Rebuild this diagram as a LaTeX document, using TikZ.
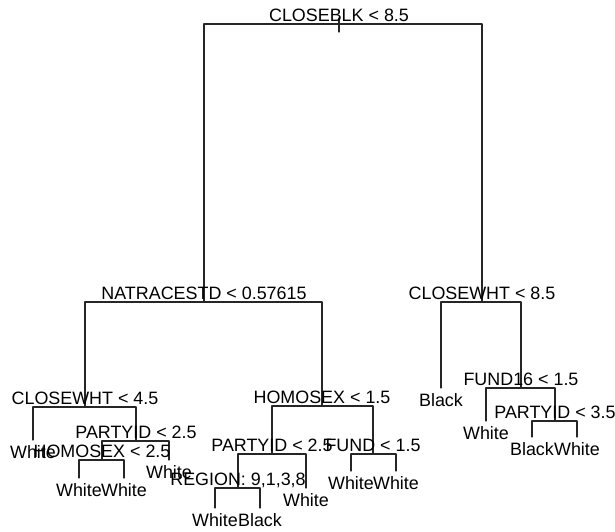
\documentclass[tikz,border=0pt]{standalone}
\usepackage{fontspec}
\setmainfont{Liberation Sans}
\begin{document}
\begin{tikzpicture}[x=1pt, y=-1pt, font=\fontsize{17.9}{20}\selectfont, line join=round, line cap=round]
	\tikzset{
		split/.style={anchor=base, inner sep=0pt, yshift=3pt},
		leaf/.style={anchor=base, inner sep=0pt, yshift=-18pt},
		edge/.style={line width=1.1pt, black!85}
	}
	\useasboundingbox (0,0) rectangle (615,531);
	
	% Các nút phân nhánh (tọa độ của đường ngang)
	\coordinate (root) at (339,24);
	\coordinate (n1) at (204,302);
	\coordinate (n2) at (482,302);
	\coordinate (n3) at (85,407);
	\coordinate (n4) at (322,406);
	\coordinate (n5) at (136,441);
	\coordinate (n6) at (102,460);
	\coordinate (n7) at (272,454);
	\coordinate (n8) at (373,454);
	\coordinate (n9) at (238,488);
	\coordinate (n10) at (521,388);
	\coordinate (n11) at (555,421);
	
	% Các lá (đầu dưới của nhánh)
	\coordinate (l1) at (33,440);
	\coordinate (l2) at (79,478);
	\coordinate (l3) at (124,478);
	\coordinate (l4) at (169,460);
	\coordinate (l5) at (215,508);
	\coordinate (l6) at (260,508);
	\coordinate (l7) at (306,488);
	\coordinate (l8) at (351,471);
	\coordinate (l9) at (396,471);
	\coordinate (l10) at (441,388);
	\coordinate (l11) at (486,421);
	\coordinate (l12) at (532,437);
	\coordinate (l13) at (577,437);
	
	% Vẽ các nhánh
	\draw[edge] ([yshift=6pt]root) -- ([yshift=-8pt]root);
	\foreach \p/\c in {root/n1, root/n2, n1/n3, n1/n4, n3/l1, n3/n5, n5/n6, n5/l4, n6/l2, n6/l3,
		n4/n7, n4/n8, n7/n9, n7/l7, n9/l5, n9/l6, n8/l8, n8/l9,
		n2/l10, n2/n10, n10/l11, n10/n11, n11/l12, n11/l13}
	\draw[edge] (\p) -| (\c);
	
	% Nhãn điều kiện tách
	\foreach \n/\t in {root/{CLOSEBLK < 8.5}, n1/{NATRACESTD < 0.57615}, n2/{CLOSEWHT < 8.5},
		n3/{CLOSEWHT < 4.5}, n4/{HOMOSEX < 1.5}, n5/{PARTYID < 2.5}, n6/{HOMOSEX < 2.5},
		n7/{PARTYID < 2.5}, n8/{FUND < 1.5}, n9/{REGION: 9,1,3,8}, n10/{FUND16 < 1.5},
		n11/{PARTYID < 3.5}}
	\node[split] (lab-\n) at (\n) {\t};
	
	% Nhãn lá
	\foreach \n/\t in {l1/White, l2/White, l3/White, l4/White, l5/White, l6/Black, l7/White,
		l8/White, l9/White, l10/Black, l11/White, l12/Black, l13/White}
	\node[leaf] (lab-\n) at (\n) {\t};
\end{tikzpicture}
\end{document}
